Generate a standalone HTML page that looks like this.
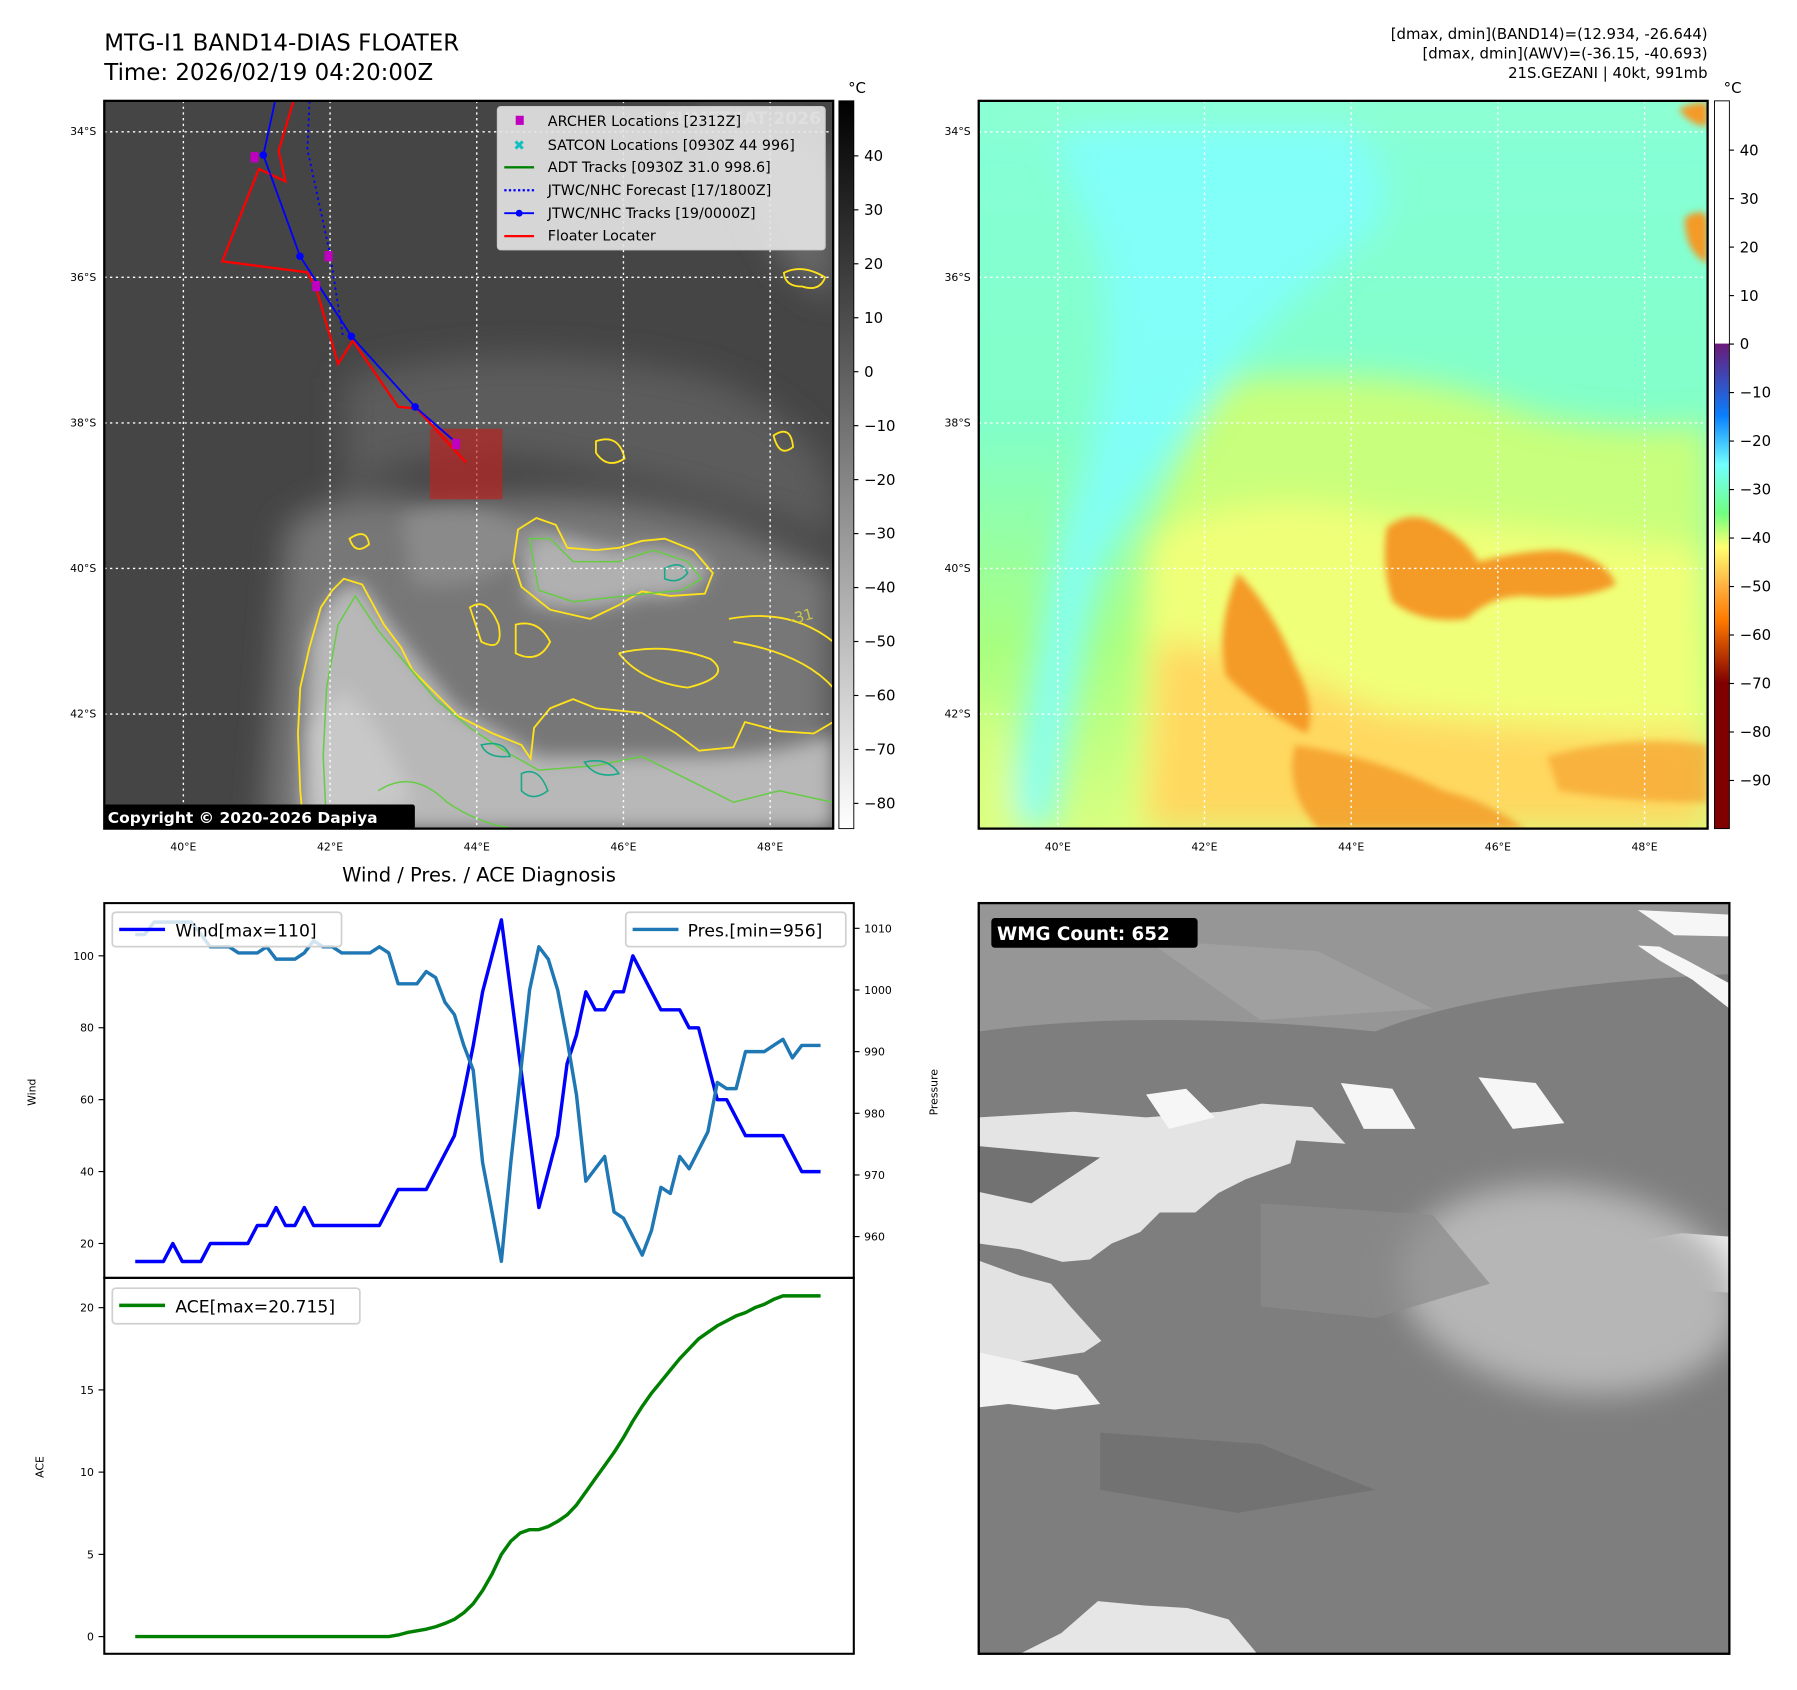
<!DOCTYPE html>
<html><head><meta charset="utf-8"><style>
html,body{margin:0;padding:0;background:#fff;}
svg{display:block;font-family:"DejaVu Sans","Liberation Sans",sans-serif;}
</style></head><body>
<svg id="fig" width="1797" height="1690" viewBox="0 0 1568 1474.6" preserveAspectRatio="none" xmlns="http://www.w3.org/2000/svg">
<defs>
<filter id="blur8" x="-20%" y="-20%" width="140%" height="140%"><feGaussianBlur stdDeviation="8"/></filter>
<filter id="blur14" x="-30%" y="-30%" width="160%" height="160%"><feGaussianBlur stdDeviation="14"/></filter>
<filter id="blur3"><feGaussianBlur stdDeviation="3"/></filter>
<clipPath id="clipL"><rect x="91" y="88" width="636" height="635"/></clipPath>
<clipPath id="clipR"><rect x="854" y="88" width="636" height="635"/></clipPath>
<clipPath id="clipB"><rect x="854" y="788" width="655" height="655"/></clipPath>
<linearGradient id="cb1" x1="0" y1="0" x2="0" y2="1"><stop offset="0" stop-color="#000"/><stop offset="1" stop-color="#fff"/></linearGradient>
<linearGradient id="cb2" x1="0" y1="0" x2="0" y2="1">
<stop offset="0" stop-color="#fff"/><stop offset="0.333" stop-color="#fff"/>
<stop offset="0.334" stop-color="#6a1a78"/><stop offset="0.40" stop-color="#2a5cd0"/>
<stop offset="0.433" stop-color="#0a80ff"/><stop offset="0.50" stop-color="#70ffff"/>
<stop offset="0.567" stop-color="#70ff80"/><stop offset="0.613" stop-color="#ffff70"/>
<stop offset="0.667" stop-color="#ffb040"/><stop offset="0.713" stop-color="#ff7a00"/>
<stop offset="0.80" stop-color="#800000"/><stop offset="1" stop-color="#800000"/></linearGradient>
<linearGradient id="rbase" x1="0" y1="0" x2="0" y2="1">
<stop offset="0" stop-color="#86ffd8"/><stop offset="0.45" stop-color="#82ffc8"/><stop offset="0.75" stop-color="#a8ff80"/><stop offset="1" stop-color="#d8ff80"/></linearGradient>
</defs>

<!-- titles -->
<text x="91" y="44" font-size="20">MTG-I1 BAND14-DIAS FLOATER</text>
<text x="91" y="70" font-size="20">Time: 2026/02/19 04:20:00Z</text>
<g font-size="13" text-anchor="end">
<text x="1490" y="34">[dmax, dmin](BAND14)=(12.934, -26.644)</text>
<text x="1490" y="51">[dmax, dmin](AWV)=(-36.15, -40.693)</text>
<text x="1490" y="68">21S.GEZANI | 40kt, 991mb</text>
</g>

<!-- ===== Top-left IR map ===== -->
<g clip-path="url(#clipL)">
<rect x="91" y="88" width="636" height="635" fill="#454545"/>
<g filter="url(#blur14)">
<path d="M300,330 Q450,290 620,330 Q700,360 727,420 L727,470 Q600,420 460,400 Q360,390 300,430 Z" fill="#5c5c5c"/>
<path d="M250,460 Q300,420 380,440 Q520,420 640,460 L727,500 L727,723 L230,723 Z" fill="#777"/>
<path d="M600,100 Q700,100 727,150 L727,260 Q680,240 660,180 Z" fill="#6a6a6a"/>
</g>
<g filter="url(#blur8)">
<path d="M270,560 Q290,505 315,510 Q350,560 400,620 Q440,640 470,660 L600,660 Q680,660 727,640 L727,723 L262,723 Z" fill="#b8b8b8"/>
<path d="M455,460 Q500,470 540,480 Q590,470 620,495 Q610,525 560,520 Q510,540 460,525 Z" fill="#b0b0b0"/>
<path d="M300,600 Q340,640 360,700 L280,723 L265,640 Z" fill="#c8c8c8"/>
<path d="M350,450 Q420,430 470,470 Q430,520 360,510 Z" fill="#8a8a8a"/>
</g>
<g fill="none" stroke="#ffe21a" stroke-width="1.6">
<path d="M265,723 L262,690 L260,640 L262,600 L270,565 L280,530 L290,515 L300,505 L316,510 L335,545 L350,565 L360,585 L380,605 L400,625 L430,640 L455,650 L463,662 L466,635 L480,618 L500,610 L520,618 L560,622 L590,640 L610,655 L640,652 L650,630 L680,638 L710,640 L727,630"/>
<path d="M452,462 L468,452 L485,458 L495,478 L520,480 L540,478 L560,472 L580,470 L605,480 L622,500 L615,518 L585,520 L560,516 L540,528 L515,540 L480,532 L455,512 L448,490 Z"/>
<path d="M410,530 Q425,520 435,545 Q440,570 420,560 Z"/>
<path d="M450,545 Q470,540 480,560 Q470,580 450,570 Z"/>
<path d="M305,470 Q320,460 322,475 Q310,485 305,470 Z"/>
<path d="M675,380 Q690,370 692,390 Q680,400 675,380 Z"/>
<path d="M684,238 Q700,230 720,242 Q715,255 700,250 Q685,250 684,238 Z"/>
<path d="M520,385 Q540,378 545,400 Q530,410 520,395 Z"/>
<path d="M636,540 Q690,530 727,560 M640,560 Q700,570 727,600"/>
<path d="M540,570 Q580,560 620,575 Q640,590 600,600 Q560,595 540,570"/>
</g>
<g fill="none" stroke="#66cc44" stroke-width="1.3">
<path d="M285,723 L282,660 L285,600 L295,545 L310,520 L330,550 L355,580 L380,610 L410,635 L440,655 L470,672 L520,668 L560,660 L600,680 L640,700 L680,690 L727,700"/>
<path d="M462,470 L480,470 L500,490 L540,490 L570,480 L600,490 L612,505 L595,515 L545,520 L500,525 L470,515 Z"/>
<path d="M330,690 Q360,670 390,700 Q420,720 450,723"/>
</g>
<g fill="none" stroke="#1aa88a" stroke-width="1.4">
<path d="M580,496 Q595,488 600,500 Q592,510 580,505 Z"/>
<path d="M455,675 Q470,668 478,690 Q465,700 455,690 Z"/>
<path d="M510,665 Q530,660 540,675 Q520,680 510,665 Z"/>
<path d="M420,650 Q440,645 445,660 Q425,662 420,650 Z"/>
</g>
<text x="690" y="545" font-size="13" fill="#c8c84a" transform="rotate(-15 690 545)">-31</text>
<text x="560" y="108" font-size="15" font-weight="bold" fill="#ddd" opacity="0.6">© EUMETSAT 2026</text>
<g stroke="#fff" stroke-width="1.2" stroke-dasharray="2,3" fill="none" id="gridL"></g>
<g id="tracks"></g>
</g>
<rect x="91" y="88" width="636" height="635" fill="none" stroke="#000" stroke-width="2"/>
<g>
<rect x="91" y="702" width="271" height="21" fill="#000" rx="2"/>
<text x="94" y="718" font-size="13.5" font-weight="bold" fill="#fff">Copyright © 2020-2026 Dapiya</text>
</g>
<!-- legend -->
<g font-size="12.5">
<rect x="434" y="93" width="286" height="125" fill="#e6e6e6" fill-opacity="0.9" stroke="#ccc" rx="3"/>
<rect x="450" y="101" width="7" height="8" fill="#c000c0"/><text x="478" y="110">ARCHER Locations [2312Z]</text>
<text x="448" y="131" font-size="12" fill="#10c0c0" font-weight="bold">✖</text><text x="478" y="131">SATCON Locations [0930Z 44 996]</text>
<line x1="440" y1="146" x2="466" y2="146" stroke="#008000" stroke-width="2"/><text x="478" y="150">ADT Tracks [0930Z 31.0 998.6]</text>
<line x1="440" y1="166" x2="466" y2="166" stroke="#0000ff" stroke-width="2" stroke-dasharray="2,2"/><text x="478" y="170">JTWC/NHC Forecast [17/1800Z]</text>
<line x1="440" y1="186" x2="466" y2="186" stroke="#0000ff" stroke-width="1.6"/><circle cx="453" cy="186" r="3" fill="#0000ff"/><text x="478" y="190">JTWC/NHC Tracks [19/0000Z]</text>
<line x1="440" y1="206" x2="466" y2="206" stroke="#ff0000" stroke-width="2"/><text x="478" y="210">Floater Locater</text>
</g>
<!-- colorbar 1 -->
<g>
<rect x="732" y="88" width="13" height="635" fill="url(#cb1)" stroke="#000" stroke-width="0.8"/>
<text x="740" y="81" font-size="13">°C</text>
<g id="cb1ticks" font-size="13"></g>
</g>

<!-- ===== Top-right AWV map ===== -->
<g clip-path="url(#clipR)">
<rect x="854" y="88" width="636" height="635" fill="url(#rbase)"/>
<g filter="url(#blur14)">
<path d="M920,120 Q1000,100 1150,100 Q1230,130 1200,200 Q1100,280 1060,340 Q1000,420 960,500 Q940,600 920,723 L880,723 Q900,560 930,450 Q980,330 960,220 Z" fill="#80ffff" opacity="0.85"/>
<path d="M854,88 L1490,88 L1490,110 L854,110 Z" fill="#90ffd0"/>
<path d="M1080,330 Q1250,320 1330,360 Q1420,380 1490,370 L1490,723 L1000,723 Q990,560 1010,450 Q1040,360 1080,330 Z" fill="#c8ff7c"/>
<path d="M1000,470 Q1100,420 1200,450 Q1350,460 1490,480 L1490,723 L990,723 Z" fill="#f0ff78"/>
<path d="M1010,560 Q1080,560 1200,620 Q1350,640 1490,640 L1490,723 L1000,723 Z" fill="#ffd860"/>
<path d="M854,600 Q880,650 890,723 L854,723 Z" fill="#e0ff80"/>
</g>
<g filter="url(#blur3)" fill="#f49a28">
<path d="M1210,460 Q1230,445 1250,455 Q1280,470 1290,490 Q1330,480 1360,480 Q1400,485 1410,510 Q1380,525 1330,520 Q1300,520 1280,540 Q1240,545 1215,525 Q1205,495 1210,460 Z"/>
<path d="M1080,500 Q1110,530 1130,580 Q1150,620 1140,640 Q1100,620 1070,590 Q1060,550 1080,500 Z"/>
<path d="M1130,650 Q1200,660 1260,690 Q1300,700 1330,723 L1150,723 Q1120,690 1130,650 Z" opacity="0.8"/>
<path d="M1350,660 Q1420,640 1490,650 L1490,700 Q1420,700 1360,690 Z" opacity="0.6"/>
<path d="M1465,95 Q1480,88 1490,90 L1490,110 Q1475,110 1465,95 Z"/>
<path d="M1470,190 Q1485,180 1490,190 L1490,230 Q1470,220 1470,190 Z"/>
</g>
<g stroke="#fff" stroke-width="1.2" stroke-dasharray="2,3" fill="none" id="gridR"></g>
</g>
<rect x="854" y="88" width="636" height="635" fill="none" stroke="#000" stroke-width="2"/>
<g>
<rect x="1496" y="88" width="13" height="635" fill="url(#cb2)" stroke="#000" stroke-width="0.8"/>
<text x="1504" y="81" font-size="13">°C</text>
<g id="cb2ticks" font-size="13"></g>
</g>
<g id="mapLabels" font-size="9.5"></g>

<!-- ===== Bottom-right WMG panel ===== -->
<g clip-path="url(#clipB)">
<rect x="854" y="788" width="655" height="655" fill="#7e7e7e"/>
<path d="M854,788 L1509,788 L1509,850 Q1300,860 1200,900 Q1000,880 854,900 Z" fill="#969696"/>
<path d="M1000,820 L1150,830 L1250,880 L1100,890 Z" fill="#a0a0a0"/>
<path d="M854,975 L937,970 L1000,975 L1065,970 L1101,963 L1145,966 L1174,998 L1131,995 L1126,1015 L1087,1029 L1063,1041 L1043,1058 L1012,1058 L995,1075 L970,1085 L951,1099 L927,1101 L890,1090 L854,1085 Z" fill="#e4e4e4"/>
<path d="M1000,955 L1035,950 L1060,975 L1020,985 Z M1170,945 L1215,950 L1235,985 L1190,985 Z M1290,940 L1340,945 L1365,980 L1320,985 Z" fill="#f6f6f6"/>
<path d="M854,1100 L890,1113 L917,1120 L934,1140 L961,1170 L946,1180 L890,1188 L854,1183 Z" fill="#e2e2e2"/>
<path d="M854,1180 L900,1190 L940,1200 L960,1225 L920,1230 L880,1225 L854,1228 Z" fill="#f2f2f2"/>
<path d="M1391,1089 L1427,1083 L1467,1076 L1509,1079 L1509,1128 L1437,1122 Z" fill="#efefef"/>
<path d="M890,1443 L926,1425 L958,1397 L1000,1401 L1036,1403 L1072,1413 L1097,1443 Z" fill="#e6e6e6"/>
<path d="M1429,794 L1509,798 L1509,817 L1461,816 Z M1429,825 L1448,826 L1472,838 L1509,858 L1509,880 L1477,855 L1448,838 Z" fill="#f6f6f6"/>
<ellipse cx="1370" cy="1125" rx="150" ry="90" fill="#b6b6b6" filter="url(#blur14)" transform="rotate(8 1370 1125)"/>
<path d="M1100,1050 L1250,1060 L1300,1120 L1200,1150 L1100,1140 Z" fill="#8c8c8c" opacity="0.7"/>
<path d="M960,1250 L1100,1260 L1200,1300 L1080,1320 L960,1300 Z" fill="#6e6e6e" opacity="0.7"/>
<path d="M854,1000 L960,1010 L900,1050 L854,1040 Z" fill="#727272"/>
</g>
<rect x="854" y="788" width="655" height="655" fill="none" stroke="#000" stroke-width="2"/>
<g>
<rect x="865" y="801" width="180" height="26" rx="3" fill="#000"/>
<text x="870" y="820" font-size="16" font-weight="bold" fill="#fff">WMG Count: 652</text>
</g>

<!-- ===== Wind/Pres/ACE charts ===== -->
<text x="418" y="769" font-size="17" text-anchor="middle">Wind / Pres. / ACE Diagnosis</text>
<g id="charts"></g>
<rect x="91" y="788" width="654" height="327" fill="none" stroke="#000" stroke-width="1.8"/>
<rect x="91" y="1115" width="654" height="328" fill="none" stroke="#000" stroke-width="1.8"/>
<text x="31" y="953" font-size="9.5" text-anchor="middle" transform="rotate(-90 31 953)">Wind</text>
<text x="818" y="953" font-size="9.5" text-anchor="middle" transform="rotate(-90 818 953)">Pressure</text>
<text x="38" y="1280" font-size="9.5" text-anchor="middle" transform="rotate(-90 38 1280)">ACE</text>
<g>
<rect x="98" y="796" width="200" height="30" rx="3" fill="#fff" fill-opacity="0.8" stroke="#d0d0d0" stroke-width="1.5"/>
<line x1="104" y1="811" x2="144" y2="811" stroke="#0000ff" stroke-width="3"/>
<text x="153" y="817" font-size="15">Wind[max=110]</text>
</g>
<g>
<rect x="546" y="796" width="192" height="30" rx="3" fill="#fff" fill-opacity="0.8" stroke="#d0d0d0" stroke-width="1.5"/>
<line x1="552" y1="811" x2="592" y2="811" stroke="#1f77b4" stroke-width="3"/>
<text x="600" y="817" font-size="15">Pres.[min=956]</text>
</g>
<g>
<rect x="98" y="1124" width="216" height="31" rx="3" fill="#fff" fill-opacity="0.8" stroke="#d0d0d0" stroke-width="1.5"/>
<line x1="104" y1="1139" x2="144" y2="1139" stroke="#008000" stroke-width="3"/>
<text x="153" y="1145" font-size="15">ACE[max=20.715]</text>
</g>
</svg>
<script>
// ---- chart data ----
const windValues=[15,15,15,15,20,15,15,15,20,20,20,20,20,25,25,30,25,25,30,25,25,25,25,25,25,25,25,30,35,35,35,35,40,45,50,62,75,90,100,110,90,70,50,30,40,50,70,78,90,85,85,90,90,100,95,90,85,85,85,80,80,70,60,60,55,50,50,50,50,50,45,40,40,40];
const presValues=[1009,1009,1011,1011,1011,1011,1011,1009,1007,1007,1007,1006,1006,1006,1007,1005,1005,1005,1006,1008,1007,1007,1006,1006,1006,1006,1007,1006,1001,1001,1001,1003,1002,998,996,991,987,972,964,956,972,986,1000,1007,1005,1000,992,983,969,971,973,964,963,960,957,961,968,967,973,971,974,977,985,984,984,990,990,990,991,992,989,991,991,991];
const aceValues=[0,0,0,0,0,0,0,0,0,0,0,0,0,0,0,0,0,0,0,0,0,0,0,0,0,0,0,0,0.1,0.25,0.35,0.45,0.6,0.8,1.05,1.45,2.0,2.8,3.8,5.0,5.8,6.3,6.5,6.5,6.7,7.0,7.4,8.0,8.8,9.6,10.4,11.2,12.1,13.1,14.0,14.8,15.5,16.2,16.9,17.5,18.1,18.5,18.9,19.2,19.5,19.7,20.0,20.2,20.5,20.715,20.715,20.715,20.715,20.715];
const windTicks=[20,40,60,80,100];
const presTicks=[960,970,980,990,1000,1010];
const aceTicks=[0,5,10,15,20];
// ---- map data ----
const latTicks=[34,36,38,40,42];
const lonTicks=[40,42,44,46,48];
const cbIrTicks=[40,30,20,10,0,-10,-20,-30,-40,-50,-60,-70,-80];
const cbAwvTicks=[40,30,20,10,0,-10,-20,-30,-40,-50,-60,-70,-80,-90];
const jtwcTrackLon=[41.25,41.09,41.59,42.29,43.16,43.74];
const jtwcTrackLat=[-33.58,-34.32,-35.71,-36.81,-37.78,-38.29];
const floaterLon=[41.50,41.30,41.39,41.03,40.53,41.69,41.81,42.11,42.31,42.93,43.18,43.85];
const floaterLat=[-33.58,-34.26,-34.68,-34.51,-35.78,-35.93,-36.15,-37.19,-36.87,-37.78,-37.80,-38.54];
const forecastLon=[41.72,41.69,42.00,42.18];
const forecastLat=[-33.58,-34.24,-35.68,-36.84];
const archerLon=[40.97,41.98,41.81,43.72];
const archerLat=[-34.35,-35.71,-36.12,-38.29];
const floaterBoxLon=[43.36,44.35];
const floaterBoxLat=[-38.08,-39.05];

const NS='http://www.w3.org/2000/svg';
function mk(tag,attrs,parent){const e=document.createElementNS(NS,tag);for(const k in attrs)e.setAttribute(k,attrs[k]);parent.appendChild(e);return e;}
// axis functions
const xIdx=i=>118+(716-118)*i/(windValues.length-1);
const yWind=v=>1085-(v-20)*(1085-834)/80;
const yPres=v=>1079-(v-960)*(1079-810)/50;
const yAce=v=>1428-v*(1428-1141)/20;
const xLon=(lon,off)=>160+(lon-40)*64+(off||0);
const yLat=lat=>115+(-lat-34)*63.5;
const yCb1=v=>136+(40-v)*(701-136)/120;
const yCb2=v=>131+(40-v)*(681-131)/130;

const charts=document.getElementById('charts');
function line(vals,yf,color,name){
  const pts=vals.map((v,i)=>xIdx(i).toFixed(1)+','+yf(v).toFixed(1)).join(' ');
  const p=mk('polyline',{points:pts,fill:'none',stroke:color,'stroke-width':3,'stroke-linejoin':'round'},charts);
  
  
}
line(windValues,yWind,'#0000ff','wind-line');
line(presValues,yPres,'#1f77b4','pressure-line');
line(aceValues,yAce,'#008000','ace-line');
function ticks(vals,yf,side,name){
  vals.forEach(v=>{
    const y=yf(v);
    if(side==='l'){mk('line',{x1:86,y1:y,x2:91,y2:y,stroke:'#000','stroke-width':1},charts);
      const t=mk('text',{x:82,y:y+3.5,'font-size':9.5,'text-anchor':'end'},charts);t.textContent=v;
      
      }
    else{mk('line',{x1:745,y1:y,x2:750,y2:y,stroke:'#000','stroke-width':1},charts);
      const t=mk('text',{x:754,y:y+3.5,'font-size':9.5},charts);t.textContent=v;
      
      }
  });
}
ticks(windTicks,yWind,'l','wind-tick-label');
ticks(presTicks,yPres,'r','pressure-tick-label');
ticks(aceTicks,yAce,'l','ace-tick-label');

// grids + labels
function grid(id,off){
  const g=document.getElementById(id);
  latTicks.forEach(l=>{const y=yLat(-l);mk('line',{x1:91+off,y1:y,x2:727+off,y2:y},g);});
  lonTicks.forEach(l=>{const x=xLon(l,off);mk('line',{x1:x,y1:88,x2:x,y2:723},g);});
}
grid('gridL',0);grid('gridR',763);
const ml=document.getElementById('mapLabels');
[0,763].forEach(off=>{
  latTicks.forEach(l=>{const t=mk('text',{x:84+off,y:yLat(-l)+3,'text-anchor':'end'},ml);t.textContent=l+'°S';
    
    });
  lonTicks.forEach(l=>{const t=mk('text',{x:xLon(l,off),y:742,'text-anchor':'middle'},ml);t.textContent=l+'°E';
    
    });
});
function cbt(id,vals,yf,x){
  const g=document.getElementById(id);
  vals.forEach(v=>{const y=yf(v);mk('line',{x1:x-4,y1:y,x2:x,y2:y,stroke:'#000'},g);
    const t=mk('text',{x:x+5,y:y+4.5},g);t.textContent=(v<0?'\u2212'+(-v):v);
    
    });
}
cbt('cb1ticks',cbIrTicks,yCb1,749);
cbt('cb2ticks',cbAwvTicks,yCb2,1513);

// tracks
const tr=document.getElementById('tracks');
const bx=xLon(floaterBoxLon[0]),by=yLat(floaterBoxLat[0]);
const box=mk('rect',{x:bx,y:by,width:xLon(floaterBoxLon[1])-bx,height:yLat(floaterBoxLat[1])-by,fill:'#c02020','fill-opacity':0.65},tr);


function poly(lons,lats,attrs,name){
  const pts=lons.map((l,i)=>xLon(l).toFixed(1)+','+yLat(lats[i]).toFixed(1)).join(' ');
  const p=mk('polyline',Object.assign({points:pts,fill:'none'},attrs),tr);
  
  
}
poly(forecastLon,forecastLat,{stroke:'#0000ff','stroke-width':1.6,'stroke-dasharray':'2,3'},'jtwc-forecast-line');
poly(floaterLon,floaterLat,{stroke:'#ff0000','stroke-width':2},'floater-locater-line');
poly(jtwcTrackLon,jtwcTrackLat,{stroke:'#0000ff','stroke-width':1.6},'jtwc-track-line');
jtwcTrackLon.slice(1,5).forEach((l,i)=>{
  const c=mk('circle',{cx:xLon(l),cy:yLat(jtwcTrackLat[i+1]),r:3.3,fill:'#0000ff'},tr);
  
  
});
archerLon.forEach((l,i)=>{
  const r=mk('rect',{x:xLon(l)-3.5,y:yLat(archerLat[i])-4.5,width:7,height:9,fill:'#c000c0'},tr);
  
  
});
</script>
</body></html>
